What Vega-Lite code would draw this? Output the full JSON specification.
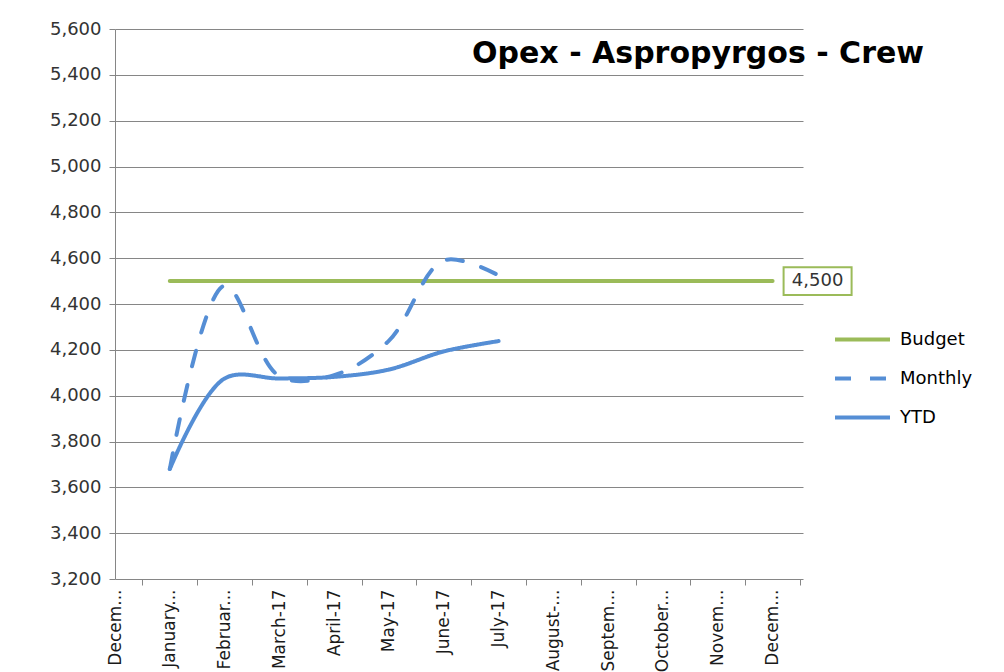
{
  "$schema": "https://vega.github.io/schema/vega-lite/v6.json",
  "width": 688,
  "height": 550,
  "autosize": {"type": "none"},
  "padding": {"left": 115, "top": 29, "right": 201, "bottom": 93},
  "background": "white",
  "config": {"view": {"stroke": null}, "font": "DejaVu Sans"},
  "title": {
    "text": "Opex - Aspropyrgos - Crew",
    "anchor": "end",
    "frame": "group",
    "font": "DejaVu Sans",
    "fontSize": 30,
    "fontWeight": "bold",
    "color": "#000000",
    "dx": 121,
    "dy": 49,
    "offset": 0,
    "baseline": "top"
  },
  "data": {
    "values": [
      {"month": "January-17", "series": "Budget", "value": 4500},
      {"month": "February-17", "series": "Budget", "value": 4500},
      {"month": "March-17", "series": "Budget", "value": 4500},
      {"month": "April-17", "series": "Budget", "value": 4500},
      {"month": "May-17", "series": "Budget", "value": 4500},
      {"month": "June-17", "series": "Budget", "value": 4500},
      {"month": "July-17", "series": "Budget", "value": 4500},
      {"month": "August-17", "series": "Budget", "value": 4500},
      {"month": "September-17", "series": "Budget", "value": 4500},
      {"month": "October-17", "series": "Budget", "value": 4500},
      {"month": "November-17", "series": "Budget", "value": 4500},
      {"month": "December-17", "series": "Budget", "value": 4500},
      {"month": "January-17", "series": "Monthly", "value": 3680},
      {"month": "February-17", "series": "Monthly", "value": 4480},
      {"month": "March-17", "series": "Monthly", "value": 4085},
      {"month": "April-17", "series": "Monthly", "value": 4090},
      {"month": "May-17", "series": "Monthly", "value": 4240},
      {"month": "June-17", "series": "Monthly", "value": 4590},
      {"month": "July-17", "series": "Monthly", "value": 4525},
      {"month": "January-17", "series": "YTD", "value": 3680},
      {"month": "February-17", "series": "YTD", "value": 4075},
      {"month": "March-17", "series": "YTD", "value": 4075},
      {"month": "April-17", "series": "YTD", "value": 4082},
      {"month": "May-17", "series": "YTD", "value": 4114},
      {"month": "June-17", "series": "YTD", "value": 4193},
      {"month": "July-17", "series": "YTD", "value": 4238}
    ]
  },
  "encoding": {
    "x": {
      "field": "month",
      "type": "ordinal",
      "sort": null,
      "scale": {
        "type": "point",
        "domain": ["December-16", "January-17", "February-17", "March-17", "April-17", "May-17", "June-17", "July-17", "August-17", "September-17", "October-17", "November-17", "December-17"],
        "padding": 0.2774,
        "align": 0
      },
      "axis": {
        "title": null,
        "domain": false,
        "grid": false,
        "ticks": true,
        "tickSize": 6,
        "tickColor": "#868686",
        "tickOffset": 27.4,
        "labelOffset": -27.4,
        "labelAngle": -90,
        "labelFontSize": 17,
        "labelColor": "#1a1a1a",
        "labelPadding": 4,
        "labelLimit": 200,
        "labelExpr": "datum.value == 'December-16' ? 'Decem...' : datum.value == 'January-17' ? 'January...' : datum.value == 'February-17' ? 'Februar...' : datum.value == 'August-17' ? 'August-...' : datum.value == 'September-17' ? 'Septem...' : datum.value == 'October-17' ? 'October...' : datum.value == 'November-17' ? 'Novem...' : datum.value == 'December-17' ? 'Decem...' : datum.value"
      }
    },
    "y": {
      "field": "value",
      "type": "quantitative",
      "scale": {"domain": [3200, 5600], "zero": false, "nice": false},
      "axis": {
        "title": null,
        "values": [3200, 3400, 3600, 3800, 4000, 4200, 4400, 4600, 4800, 5000, 5200, 5400, 5600],
        "format": ",.0f",
        "grid": true,
        "gridColor": "#868686",
        "gridWidth": 1,
        "domainColor": "#868686",
        "tickColor": "#868686",
        "tickSize": 6,
        "labelFontSize": 18,
        "labelColor": "#333333",
        "labelPadding": 8
      }
    }
  },
  "layer": [
    {
      "mark": {"type": "line", "interpolate": "catmull-rom", "strokeWidth": 4, "strokeCap": "round"},
      "encoding": {
        "color": {
          "field": "series",
          "type": "nominal",
          "scale": {"domain": ["Budget", "Monthly", "YTD"], "range": ["#9BBB59", "#558ED5", "#558ED5"]},
          "legend": {
            "title": null,
            "orient": "none",
            "legendX": 718,
            "legendY": 281,
            "symbolType": "stroke",
            "symbolSize": 3025,
            "symbolStrokeWidth": 4,
            "labelFontSize": 18,
            "labelColor": "#000000",
            "labelOffset": 8,
            "rowPadding": -1
          }
        },
        "strokeDash": {
          "field": "series",
          "type": "nominal",
          "scale": {"domain": ["Budget", "Monthly", "YTD"], "range": [[1, 0], [16, 19], [1, 0]]}
        }
      }
    },
    {
      "transform": [{"filter": "datum.series === 'Budget' && datum.month === 'December-17'"}],
      "mark": {
        "type": "point",
        "shape": "M-1,-0.41H1V0.41H-1Z",
        "size": 4624,
        "filled": true,
        "fill": "white",
        "stroke": "#9BBB59",
        "strokeWidth": 2,
        "opacity": 1,
        "xOffset": 45
      }
    },
    {
      "transform": [{"filter": "datum.series === 'Budget' && datum.month === 'December-17'"}],
      "mark": {"type": "text", "fontSize": 18, "color": "#333333", "xOffset": 45, "align": "center", "baseline": "middle"},
      "encoding": {"text": {"field": "value", "type": "quantitative", "format": ","}}
    }
  ]
}
